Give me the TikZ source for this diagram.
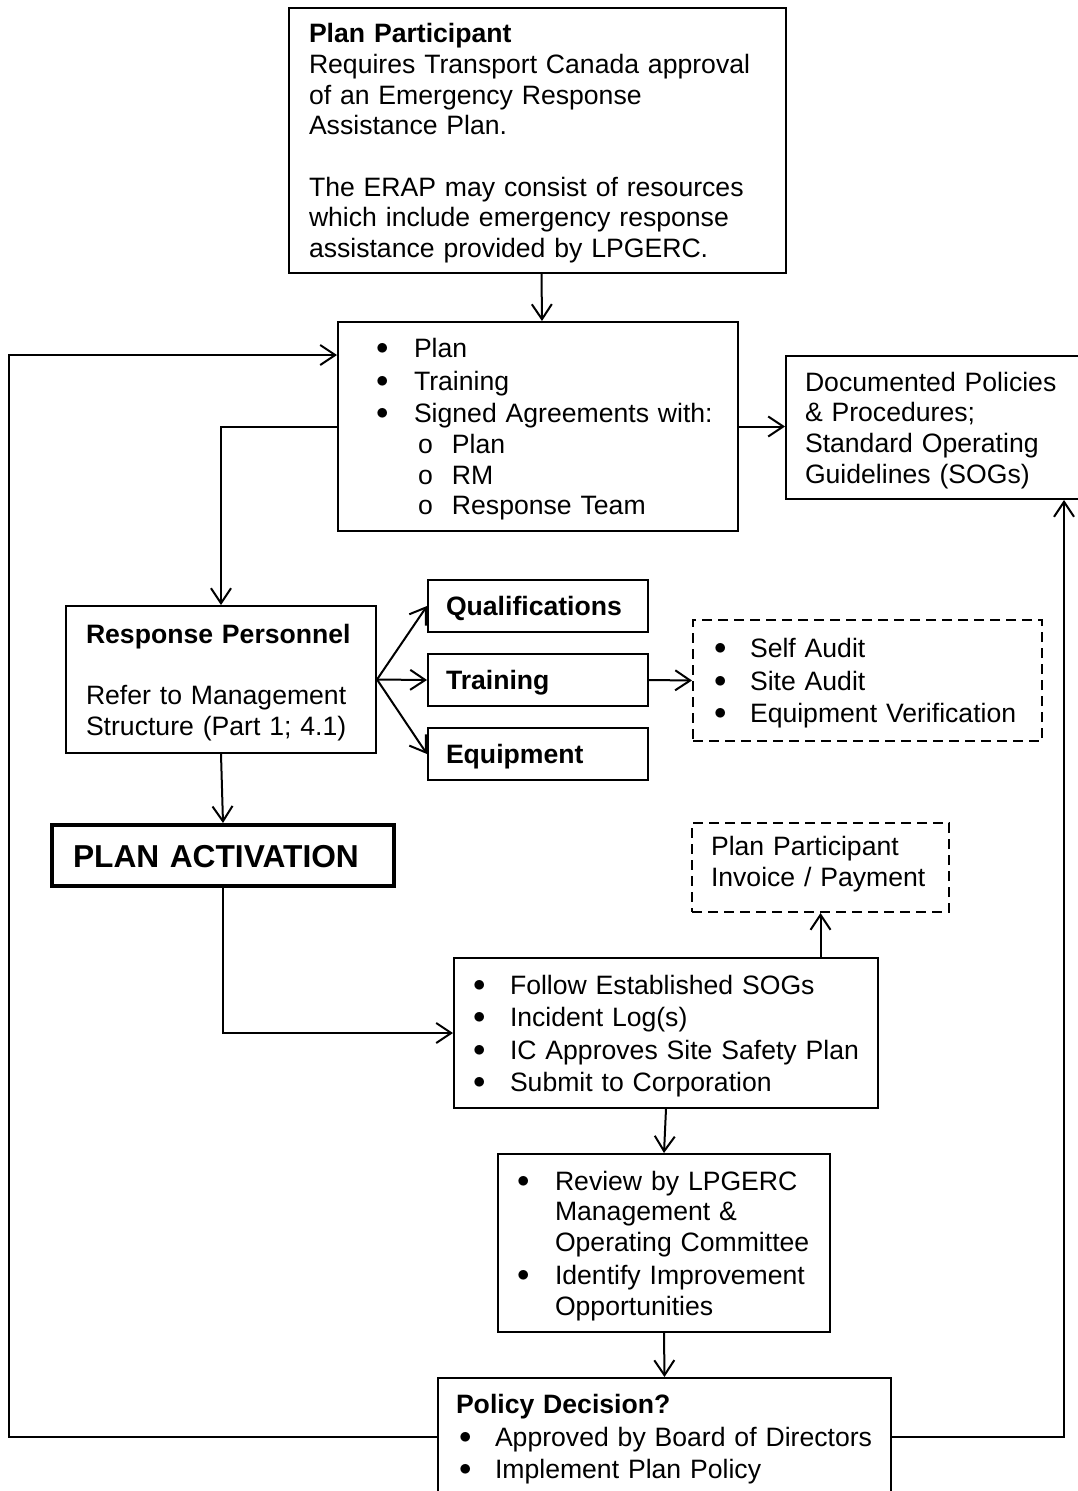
\documentclass[tikz,border=0pt]{standalone}
\usepackage{fontspec}
\setmainfont{Liberation Sans}
\usetikzlibrary{arrows.meta,calc}
\newcommand{\nsz}{\fontsize{26.6}{30.7}\selectfont}
\newcommand{\bul}[1]{\makebox[#1pt][l]{\hspace*{-2pt}\raisebox{3pt}{$\bullet$}}}
\newcommand{\subul}{\hspace*{40pt}\makebox[34pt][l]{o}}
\tikzset{
  box/.style={draw,line width=2pt,anchor=north west,inner sep=0pt,align=left,font=\nsz},
  wh/.style 2 args={minimum width=#1pt,text width=#1pt,minimum height=#2pt},
  lm/.style={execute at begin node={\leftskip=#1pt\relax\rule{0pt}{25pt}}},
  dbox/.style={box,dash pattern=on 10pt off 6pt},
  arr/.style={line width=2pt,-{Straight Barb[length=15pt,width=20pt]}},
}
\begin{document}
\begin{tikzpicture}[x=1pt,y=-1pt]
\useasboundingbox (0,0) rectangle (1077,1491);
% top of the chart
\node[box,wh={497}{265},lm=20] (pp) at (288,7) {\textbf{Plan Participant}\\
  Requires Transport Canada approval\\ of an Emergency Response\\ Assistance Plan.\\[30.7pt]
  The ERAP may consist of resources\\ which include emergency response\\ assistance provided by LPGERC.};
\node[box,wh={400}{209},lm=40] (box2) at (337,321) {\bul{36}Plan\\[1.8pt] \bul{36}Training\\[1.8pt]
  \bul{36}Signed Agreements with:\\ \subul Plan\\ \subul RM\\ \subul Response Team};
\node[box,wh={295}{143},lm=19] (doc) at (785,355) {Documented Policies\\ \& Procedures;\\
  Standard Operating\\ Guidelines (SOGs)};
% personnel
\node[box,wh={310}{147},lm=20] (rp) at (65,605) {\textbf{Response Personnel}\\[30.7pt]
  Refer to Management\\ Structure (Part 1; 4.1)};
\foreach \n/\lab/\y in {qual/Qualifications/579,trn/Training/653,eqp/Equipment/727} {
  \node[box,wh={220}{52},lm=18] (\n) at (427,\y) {\textbf{\lab}};
  \draw[arr] (rp.east) -- (\n.west);
}
\node[dbox,wh={349}{121},lm=23] (aud) at (692,619) {\bul{34}Self Audit\\[1.8pt] \bul{34}Site Audit\\[1.8pt]
  \bul{34}Equipment Verification};
% activation and follow-up
\node[box,wh={342}{61},lm=21,line width=4pt,font={\fontsize{31.7}{36}\selectfont\bfseries}] (act) at (50,823) {PLAN ACTIVATION};
\node[dbox,wh={257}{89},lm=19] (inv) at (691,822) {Plan Participant\\ Invoice / Payment\rule[-18pt]{0pt}{1pt}};
\node[box,wh={424}{150},lm=21] (fol) at (453,957) {\bul{35}Follow Established SOGs\\[1.8pt]
  \bul{35}Incident Log(s)\\[1.8pt] \bul{35}IC Approves Site Safety Plan\\[1.8pt] \bul{35}Submit to Corporation};
\node[box,wh={332}{178},lm=21] (rev) at (497,1153) {\bul{36}Review by LPGERC\\ \hspace*{36pt}Management \&\\
  \hspace*{36pt}Operating Committee\\[2.6pt] \bul{36}Identify Improvement\\ \hspace*{36pt}Opportunities};
\node[box,wh={453}{117},lm=18] (pol) at (437,1377) {\textbf{Policy Decision?}\\[2pt]
  \hspace*{5pt}\bul{34}Approved by Board of Directors\\[1.8pt] \hspace*{5pt}\bul{34}Implement Plan Policy};
% connectors
\draw[arr] ($(pp.south)+(4,0)$) -- ($(box2.north)+(4,0)$);
\draw[arr] (box2.east) -- (box2.east -| doc.west);
\draw[arr] (box2.west) -| (rp.north);
\draw[arr] (trn.east) -- (aud.west);
\draw[arr] (rp.south) -- (act.north);
\draw[arr] (act.south) |- (fol.west);
\draw[arr] (inv.south |- fol.north) -- (inv.south);
\draw[arr] (fol.south) -- (rev.north);
\draw[arr] (rev.south) -- (pol.north);
\draw[arr] (pol.west) -- ++(-428,0) |- ($(box2.north west)+(0,34)$);
\draw[arr] (pol.east) -| ($(doc.south east)+(-18,0)$);
\end{tikzpicture}
\end{document}
